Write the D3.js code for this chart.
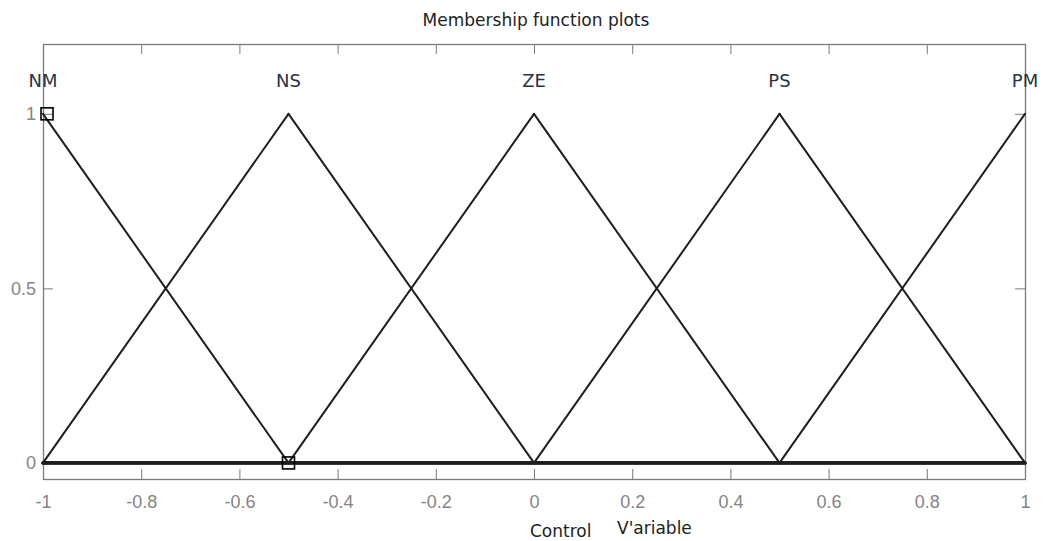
<!DOCTYPE html>
<html>
<head>
<meta charset="utf-8">
<script src="https://cdn.jsdelivr.net/npm/d3@7"></script>
<style>
  html, body { margin: 0; padding: 0; background: #fff; }
  svg { display: block; font-family: "DejaVu Sans", Verdana, sans-serif; }
</style>
</head>
<body>
<svg id="chart" width="1043" height="541"></svg>
<script>
// Membership functions of the control variable (triangular, MATLAB-style)
const mfNames = ["NM", "NS", "ZE", "PS", "PM"];
const mfPeaks = [-1, -0.5, 0, 0.5, 1];
// Each function sampled over the full range [-1, 1]
const mfNM = [[-1, 1], [-0.5, 0], [1, 0]];
const mfNS = [[-1, 0], [-0.5, 1], [0, 0], [1, 0]];
const mfZE = [[-1, 0], [-0.5, 0], [0, 1], [0.5, 0], [1, 0]];
const mfPS = [[-1, 0], [0, 0], [0.5, 1], [1, 0]];
const mfPM = [[-1, 0], [0.5, 0], [1, 1]];
const mfSeries = [mfNM, mfNS, mfZE, mfPS, mfPM];

const xTicks = [-1, -0.8, -0.6, -0.4, -0.2, 0, 0.2, 0.4, 0.6, 0.8, 1];
const yTicks = [0, 0.5, 1];
// Selected-point markers
const markers = [[-1, 1], [-0.5, 0]];

const svg = d3.select("#chart");
const plotLeft = 43, plotRight = 1025, plotTop = 44, plotBottom = 479;

const x = d3.scaleLinear().domain([-1, 1]).range([plotLeft, plotRight]);
const y = d3.scaleLinear().domain([-0.046, 1.2]).range([plotBottom, plotTop]);

const boxColor = "#7a7a7a";
const labelColor = "#858585";
const fmt = d => String(+d.toFixed(1));

// Axes: ticks pointing inward on all four sides
const tickLen = 10;
svg.append("g").attr("transform", `translate(0,${plotBottom})`)
  .call(d3.axisBottom(x).tickValues(xTicks).tickSizeInner(-tickLen).tickSizeOuter(0).tickPadding(16)
    .tickFormat(fmt))
  .call(g => g.select(".domain").remove())
  .call(g => g.selectAll(".tick line").attr("stroke", boxColor))
  .call(g => g.selectAll(".tick text").attr("fill", labelColor).attr("font-size", 18).attr("font-family", null));

svg.append("g").attr("transform", `translate(0,${plotTop})`)
  .call(d3.axisTop(x).tickValues(xTicks).tickSizeInner(-tickLen).tickSizeOuter(0).tickFormat(""))
  .call(g => g.select(".domain").remove())
  .call(g => g.selectAll(".tick line").attr("stroke", boxColor));

svg.append("g").attr("transform", `translate(${plotLeft},0)`)
  .call(d3.axisLeft(y).tickValues(yTicks).tickSizeInner(-tickLen).tickSizeOuter(0).tickPadding(7)
    .tickFormat(fmt))
  .call(g => g.select(".domain").remove())
  .call(g => g.selectAll(".tick line").attr("stroke", boxColor))
  .call(g => g.selectAll(".tick text").attr("fill", labelColor).attr("font-size", 18).attr("font-family", null));

svg.append("g").attr("transform", `translate(${plotRight},0)`)
  .call(d3.axisRight(y).tickValues(yTicks).tickSizeInner(-tickLen).tickSizeOuter(0).tickFormat(""))
  .call(g => g.select(".domain").remove())
  .call(g => g.selectAll(".tick line").attr("stroke", boxColor));

// Plot frame
svg.append("rect")
  .attr("x", plotLeft + 0.5).attr("y", plotTop + 0.5)
  .attr("width", plotRight - plotLeft).attr("height", plotBottom - plotTop)
  .attr("fill", "none").attr("stroke", boxColor).attr("stroke-width", 1.3);

// Membership function curves, split into segments so the flat zero
// stretches (shared by all functions) render heavier, as overlapping lines do
const segments = mfSeries.flatMap(s => d3.pairs(s));
svg.append("g").selectAll("line").data(segments).join("line")
  .attr("x1", d => x(d[0][0])).attr("y1", d => y(d[0][1]))
  .attr("x2", d => x(d[1][0])).attr("y2", d => y(d[1][1]))
  .attr("stroke", "#1e1e1e")
  .attr("stroke-width", d => (d[0][1] === 0 && d[1][1] === 0) ? 3.2 : 2)
  .attr("stroke-linecap", "round");

// Markers
const ms = 12;
svg.append("g").selectAll("rect").data(markers).join("rect")
  .attr("x", d => x(d[0]) - ms / 2 + (d[0] === -1 ? 4 : 0))
  .attr("y", d => y(d[1]) - ms / 2)
  .attr("width", ms).attr("height", ms)
  .attr("fill", "none").attr("stroke", "#000").attr("stroke-width", 1.6);

// Function names above each peak
svg.append("g").selectAll("text").data(mfNames).join("text")
  .attr("x", (d, i) => x(mfPeaks[i]))
  .attr("y", 87)
  .attr("text-anchor", "middle")
  .attr("font-size", 18)
  .attr("fill", "#2a3440")
  .text(d => d);

// Title
svg.append("text")
  .attr("x", 536).attr("y", 26)
  .attr("text-anchor", "middle")
  .attr("font-size", 17)
  .attr("fill", "#222")
  .text("Membership function plots");

// Axis label
svg.append("text")
  .attr("x", 530).attr("y", 537)
  .attr("font-size", 17)
  .attr("fill", "#222")
  .text("Control");
svg.append("text")
  .attr("x", 617).attr("y", 534)
  .attr("font-size", 17)
  .attr("fill", "#222")
  .text("V'ariable");
</script>
</body>
</html>
